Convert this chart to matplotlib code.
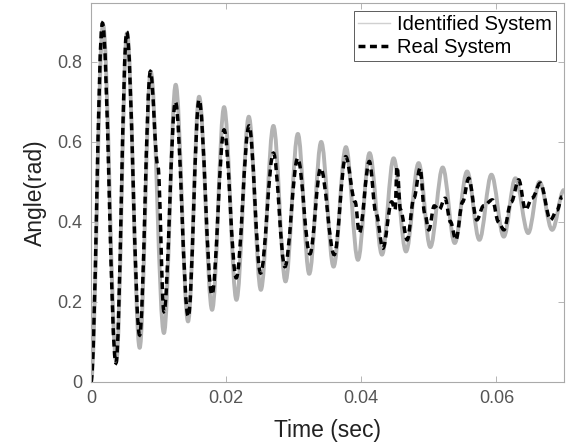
import numpy as np
import matplotlib
matplotlib.use("Agg")
import matplotlib.pyplot as plt
from matplotlib.path import Path
from matplotlib.patches import PathPatch
from matplotlib.lines import Line2D

plt.rcParams['font.family'] = ['Liberation Sans', 'DejaVu Sans']

# Identified system: turning points (sec, rad)
ident_t = [0.0, 0.00178, 0.00375, 0.00533, 0.00721, 0.00884, 0.0108, 0.01254,
           0.01437, 0.0160, 0.01793, 0.0197, 0.02153, 0.02336, 0.02514, 0.0270,
           0.02879, 0.03062, 0.0323, 0.03407, 0.0359, 0.03773, 0.03951, 0.04123,
           0.04307, 0.04479, 0.04662, 0.04849, 0.05022, 0.05205, 0.05383,
           0.05566, 0.05748, 0.05926, 0.06109, 0.06281, 0.0647, 0.06637,
           0.06825, 0.0700]
ident_y = [0.0, 0.893, 0.051, 0.872, 0.085, 0.776, 0.122, 0.743,
           0.151, 0.713, 0.180, 0.687, 0.205, 0.663, 0.230, 0.640,
           0.251, 0.620, 0.270, 0.600, 0.288, 0.587, 0.305, 0.572,
           0.318, 0.559, 0.326, 0.547, 0.337, 0.536, 0.347,
           0.526, 0.355, 0.518, 0.363, 0.509, 0.372, 0.500,
           0.380, 0.480]

real_t = [0.0, 0.0017, 0.0037, 0.0053, 0.0072, 0.0088, 0.0099, 0.0108, 0.0125,
          0.0144, 0.0160, 0.0179, 0.0197, 0.0215, 0.0234, 0.0251, 0.0270,
          0.0287, 0.0306, 0.0324, 0.0340, 0.0360, 0.0377, 0.0391, 0.0397,
          0.0412, 0.0422, 0.0432, 0.0445, 0.0450, 0.0453, 0.0458, 0.0468,
          0.0478, 0.0487, 0.0494, 0.0500, 0.0508, 0.0515, 0.0524, 0.0532,
          0.0540, 0.0550, 0.0559, 0.0571, 0.0581, 0.0594, 0.0603, 0.0611,
          0.0622, 0.0633, 0.0643, 0.0653, 0.0665, 0.0680, 0.0690, 0.0697]
real_y = [0.0, 0.897, 0.047, 0.875, 0.117, 0.776, 0.54, 0.176, 0.700,
          0.163, 0.705, 0.218, 0.630, 0.260, 0.640, 0.272, 0.572,
          0.288, 0.559, 0.320, 0.534, 0.318, 0.563, 0.450, 0.372,
          0.551, 0.420, 0.334, 0.450, 0.430, 0.538, 0.430, 0.355,
          0.460, 0.534, 0.420, 0.380, 0.440, 0.430, 0.459, 0.400,
          0.355, 0.450, 0.509, 0.405, 0.440, 0.455, 0.400, 0.380,
          0.450, 0.505, 0.430, 0.460, 0.497, 0.405, 0.430, 0.463]

x_ticks = [0, 0.02, 0.04, 0.06]
x_tick_labels = ['0', '0.02', '0.04', '0.06']
y_ticks = [0, 0.2, 0.4, 0.6, 0.8]
y_tick_labels = ['0', '0.2', '0.4', '0.6', '0.8']


def smooth_path(t, y, k=0.36):
    """Bezier path through the points, flat tangent at each point."""
    verts = [(t[0], y[0])]
    codes = [Path.MOVETO]
    for i in range(len(t) - 1):
        dt = t[i + 1] - t[i]
        verts += [(t[i] + k * dt, y[i]), (t[i + 1] - k * dt, y[i + 1]),
                  (t[i + 1], y[i + 1])]
        codes += [Path.CURVE4] * 3
    return Path(verts, codes)


fig = plt.figure(figsize=(5.72, 4.44), dpi=100)
ax = fig.add_axes([0.159, 0.140, 0.827, 0.853])

gray = '#b3b3b3'
ax.add_patch(PathPatch(smooth_path(ident_t, ident_y), fill=False,
                       edgecolor=gray, lw=2.8, joinstyle='round'))
ax.add_patch(PathPatch(smooth_path(real_t, real_y), fill=False,
                       edgecolor='black', lw=2.5, linestyle=(0, (2.0, 1.3)),
                       capstyle='butt'))

ax.set_xlim(0, 0.07)
ax.set_ylim(0, 0.947)
ax.set_xticks(x_ticks)
ax.set_xticklabels(x_tick_labels)
ax.set_yticks(y_ticks)
ax.set_yticklabels(y_tick_labels)
ax.tick_params(direction='in', length=4, width=0.6, colors='#aaaaaa',
               labelcolor='#555555', labelsize=13, top=True, right=True,
               pad=6)

for s in ax.spines.values():
    s.set_color('#aaaaaa')
    s.set_linewidth(0.8)

ax.set_xlabel('Time (sec)', fontsize=16.5, color='#222222')
ax.xaxis.label.set_va('center')
ax.xaxis.set_label_coords(0.5, -0.129)
ax.set_ylabel('Angle(rad)', fontsize=16.5, color='#222222')
ax.yaxis.label.set_va('center')
ax.yaxis.set_label_coords(-0.118, 0.5)

handles = [Line2D([], [], color='#d0d0d0', lw=1.0),
           Line2D([], [], color='black', lw=2.5, linestyle=(0, (2.0, 1.3)))]
leg = ax.legend(handles, ['Identified System', 'Real System'],
                loc='upper right', fontsize=14.5, frameon=True,
                fancybox=False, handlelength=1.6, handletextpad=0.35,
                borderaxespad=0.4, borderpad=0.2, labelspacing=0.2)
leg.get_frame().set_edgecolor('#333333')
leg.get_frame().set_linewidth(0.7)

fig.savefig('out.png', dpi=100)
